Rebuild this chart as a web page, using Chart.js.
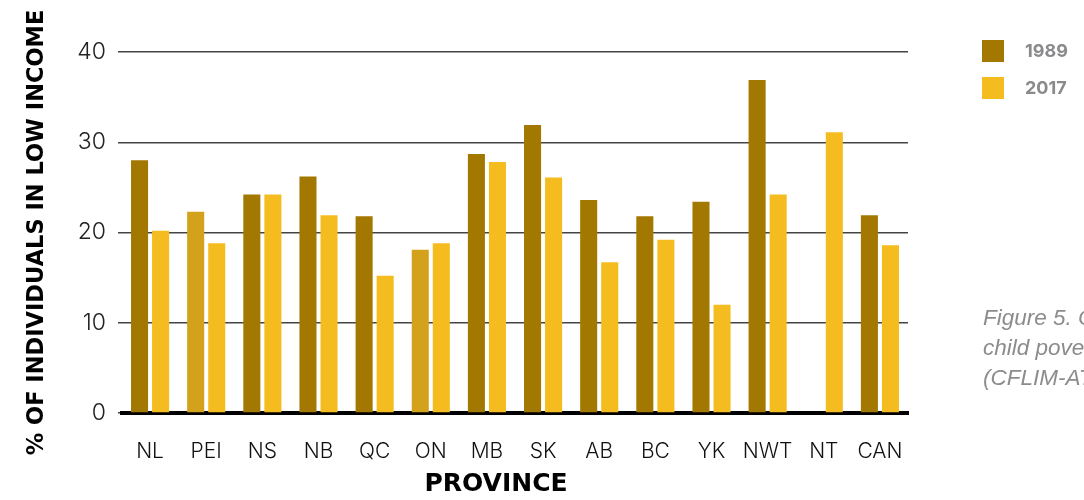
<!DOCTYPE html>
<html>
<head>
<meta charset="utf-8">
<script src="https://cdn.jsdelivr.net/npm/chart.js@4"></script>
<style>
    html, body { margin: 0; padding: 0; background: #fff; overflow: hidden; }
    #wrap { position: relative; width: 1084px; height: 500px; overflow: hidden; }
    #myChart { position: absolute; left: 0; top: 0; }
    .swatch { position: absolute; left: 982px; width: 22px; height: 22px; }
    .leg-text { position: absolute; left: 1025px; font: 700 18px Inter, sans-serif; color: #8a8a8c; line-height: 22px; }
    #xTitle { position: absolute; left: 496px; top: 470px; transform: translateX(-50%); font: bold 25px "DejaVu Sans", sans-serif; line-height: 25px; color: #000; white-space: nowrap; }
    #caption { position: absolute; left: 983px; top: 303px; font: italic 22.5px "Liberation Sans", Arial, sans-serif; line-height: 30px; color: #8c8c8e; white-space: nowrap; }
</style>
</head>
<body>
<div id="wrap">
    <canvas id="myChart" width="1084" height="500"></canvas>
    <div class="swatch" style="top:40px;background:#a37800"></div>
    <div class="leg-text" style="top:40px">1989</div>
    <div class="swatch" style="top:77px;background:#f5bc1f"></div>
    <div class="leg-text" style="top:77px">2017</div>
    <div id="xTitle">PROVINCE</div>
    <div id="caption">Figure 5. Change in<br>child poverty rates<br>(CFLIM-AT)</div>
</div>
<script>
const provinces = ['NL', 'PEI', 'NS', 'NB', 'QC', 'ON', 'MB', 'SK', 'AB', 'BC', 'YK', 'NWT', 'NT', 'CAN'];
const values1989 = [28.0, 22.3, 24.2, 26.2, 21.8, 18.1, 28.7, 31.9, 23.6, 21.8, 23.4, 36.9, null, 21.9];
const values2017 = [20.2, 18.8, 24.2, 21.9, 15.2, 18.8, 27.8, 26.1, 16.7, 19.2, 12.0, 24.2, 31.1, 18.6];
const yTicks = [0, 10, 20, 30, 40];

// a couple of the 1989 bars are printed in a lighter gold
const lightBars = ['PEI', 'ON'];
const dark = '#a37800';
const light = '#d4a21a';
const gold = '#f5bc1f';

init();
function init() {
    const ctx = document.getElementById('myChart').getContext('2d');

    const myChart = new Chart(ctx, {
        type: 'bar',
        data: {
            labels: provinces,
            datasets: [
                {
                    label: '1989',
                    data: values1989,
                    backgroundColor: provinces.map(p => lightBars.includes(p) ? light : dark),
                    categoryPercentage: 0.75,
                    barPercentage: 0.81
                },
                {
                    label: '2017',
                    data: values2017,
                    backgroundColor: gold,
                    categoryPercentage: 0.75,
                    barPercentage: 0.81
                }
            ]
        },
        options: {
            responsive: false,
            animation: false,
            layout: {
                padding: { top: 52, right: 176, left: 0, bottom: 0 }
            },
            plugins: {
                legend: { display: false },
                tooltip: { enabled: false }
            },
            scales: {
                x: {
                    afterFit: (scale) => { scale.height = 87; },
                    grid: { display: false, drawTicks: false },
                    border: { display: true, color: '#000', width: 4 },
                    ticks: {
                        color: '#111',
                        font: { family: 'Inter', weight: 300, size: 21 },
                        padding: 26,
                        maxRotation: 0,
                        autoSkip: false
                    }
                },
                y: {
                    min: 0,
                    max: 40,
                    afterFit: (scale) => { scale.width = 122; },
                    afterBuildTicks: (scale) => {
                        scale.ticks = yTicks.map(v => ({ value: v }));
                    },
                    grid: {
                        color: '#444',
                        lineWidth: 1.5,
                        drawTicks: true,
                        tickLength: 4,
                        tickColor: '#444'
                    },
                    border: { display: false },
                    ticks: {
                        color: '#222',
                        font: { family: 'Inter', weight: 300, size: 23 },
                        padding: 12
                    },
                    title: {
                        display: true,
                        text: '% OF INDIVIDUALS IN LOW INCOME',
                        color: '#000',
                        font: { family: 'DejaVu Sans', weight: 'bold', size: 22.5 },
                        padding: { top: 24, bottom: 0 }
                    }
                }
            }
        }
    });
}
</script>
</body>
</html>
